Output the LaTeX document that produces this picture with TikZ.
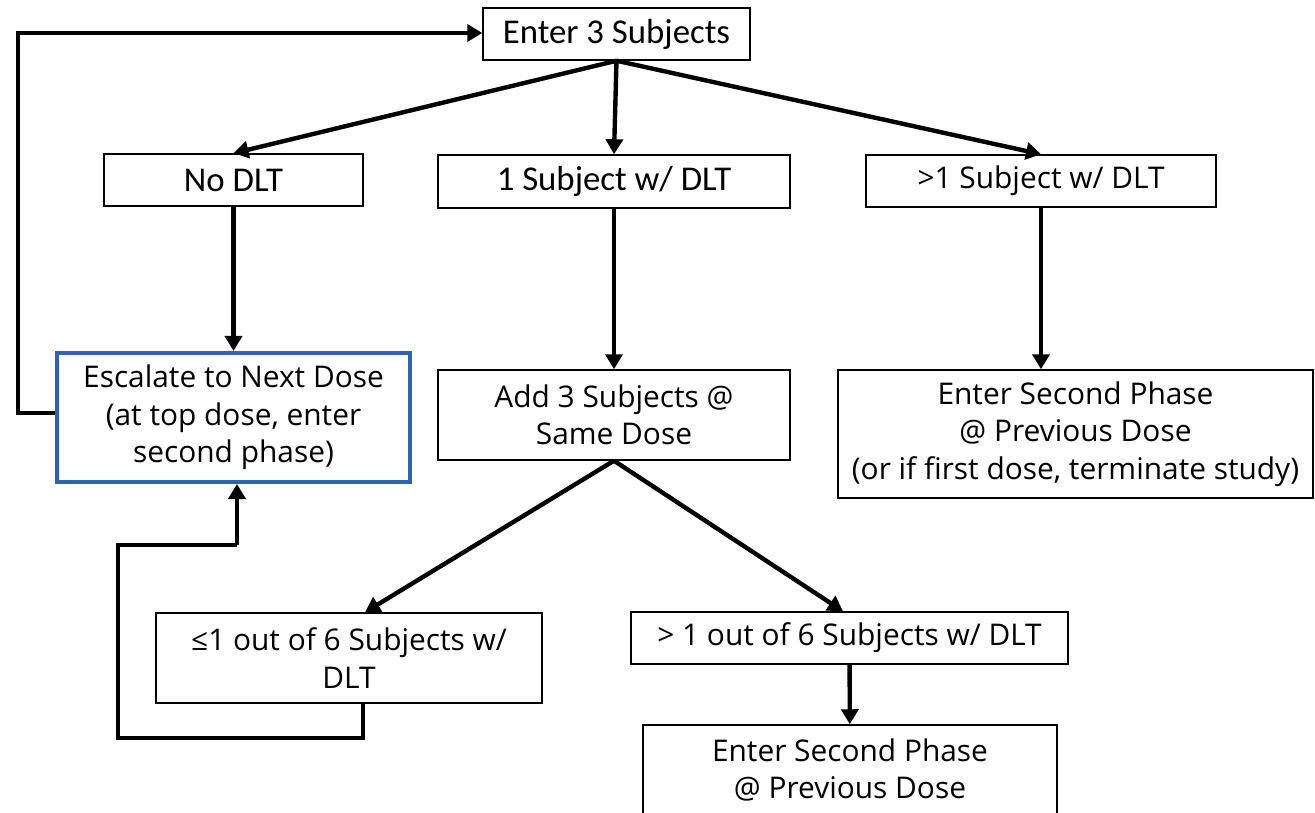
\documentclass[tikz,border=0pt]{standalone}
\usepackage{fontspec}
\setmainfont{Open Sans}
\newfontfamily\calib{Carlito}
\usetikzlibrary{arrows.meta}
\definecolor{escblue}{RGB}{46,98,181}
\tikzset{
    every node/.style={align=center,},
    stepbox/.style={draw,line width=0.85pt,inner sep=0pt,font=\fontsize{17}{21.3}\selectfont},
    calbox/.style={stepbox,font=\calib\fontsize{19.8}{24}\selectfont},
    link/.style={line width=2.5pt,-{Triangle[length=0.3cm,width=0.34cm]}},
}

\begin{document}
\begin{tikzpicture}[x=0.02cm,y=-0.02cm]
                \useasboundingbox (0,0) rectangle (1315,813);

                \node[calbox,minimum width=5.34cm,minimum height=1.04cm] (enter) at (616.5,34) {Enter 3 Subjects};

                \node[calbox,minimum width=5.18cm,minimum height=1.04cm] (nodlt) at (233.5,180) {No DLT};
                \node[calbox,minimum width=7.04cm,minimum height=1.06cm] (onedlt) at (614,181.5) {1 Subject w/ DLT};
                \node[stepbox,minimum width=7.0cm,minimum height=1.04cm] (moredlt) at (1041,181) {>1 Subject w/ DLT};

                \node[stepbox,draw=escblue,line width=2.3pt,minimum width=7.06cm,minimum height=2.58cm] (escalate) at (233.5,417.5) {Escalate to Next Dose\\(at top dose, enter\\second phase)};
                \node[stepbox,minimum width=7.04cm,minimum height=1.8cm] (addthree) at (614,415) {Add 3 Subjects @\\Same Dose};
                \node[stepbox,minimum width=9.5cm,minimum height=2.56cm] (phaseone) at (1075.5,434) {Enter Second Phase\\@ Previous Dose\\(or if first dose, terminate study)};

                \node[stepbox,minimum width=7.72cm,minimum height=1.8cm] (atmost) at (349,658) {≤1 out of 6 Subjects w/\\DLT};
                \node[stepbox,minimum width=8.74cm,minimum height=1.04cm] (over) at (849.5,638) {> 1 out of 6 Subjects w/ DLT};
                \node[stepbox,minimum width=8.28cm,minimum height=1.8cm] (phasetwo) at (850,770) {Enter Second Phase\\@ Previous Dose};

                \coordinate (loopa) at (18,413);
                \coordinate (loopb) at (18,33);
                \coordinate (backa) at (363,738);
                \coordinate (backb) at (118,738);
                \coordinate (backc) at (118,545);
                \coordinate (backd) at (237,545);

                \draw[link] (escalate.west |- loopa) -- (loopa) -- (loopb) -- (enter.west |- loopb);
                \draw[link] (enter.south) -- (nodlt.north);
                \draw[link] (enter.south) -- (onedlt.north);
                \draw[link] (enter.south) -- (moredlt.north);

                \draw[link] (nodlt) -- (escalate);
                \draw[link] (onedlt) -- (addthree);
                \draw[link] (moredlt.south) -- (moredlt.south |- phaseone.north);

                \draw[link] (addthree.south) -- (atmost.north -| 365,0);
                \draw[link] (addthree.south) -- (over.north -| 843,0);
                \draw[line width=2.5pt] (atmost.south -| backa) -- (backa) -- (backb) -- (backc) -- (backd);
                \draw[link] (backd) -- (escalate.south -| backd);
                \draw[link] (over) -- (phasetwo);
            \end{tikzpicture}
\end{document}
